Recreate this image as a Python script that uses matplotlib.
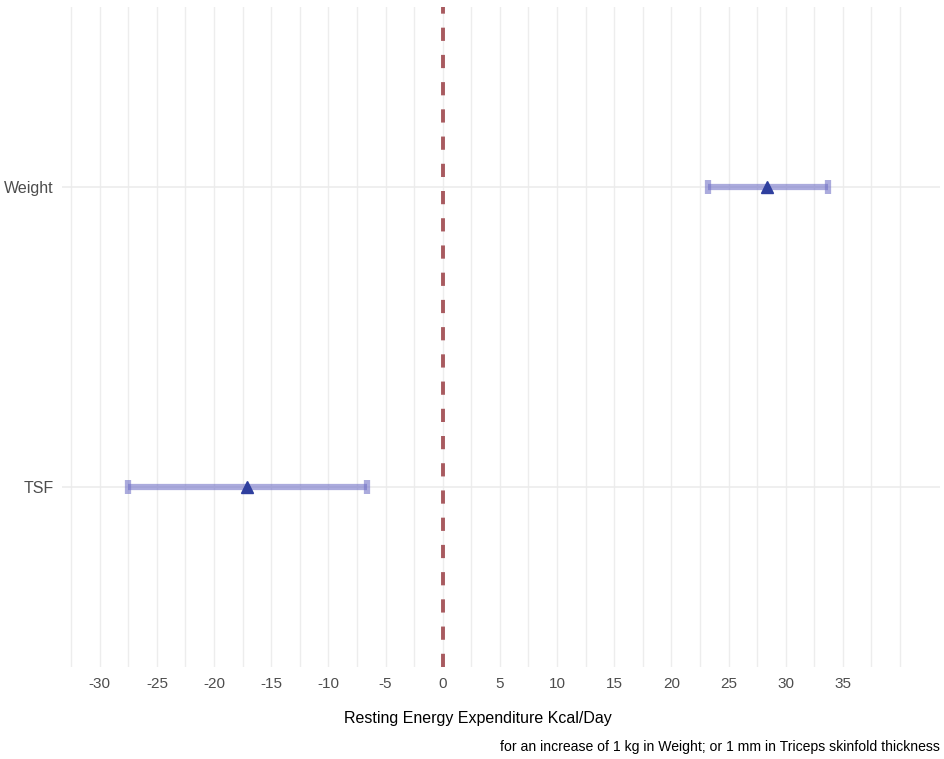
import matplotlib

matplotlib.use("Agg")
import matplotlib.pyplot as plt
import numpy as np

plt.rcParams["font.family"] = ["Liberation Sans", "DejaVu Sans"]

# Regression estimates with 95% CI (kcal/day)
terms = ["TSF", "Weight"]
estimate = [-17.1, 28.4]
ci_low = [-27.5, 23.2]
ci_high = [-6.6, 33.7]

x_ticks = list(range(-30, 40, 5))
grid_x = np.arange(-32.5, 40.1, 2.5)

W, H = 945, 759
fig = plt.figure(figsize=(W / 100, H / 100), dpi=100)
ax = fig.add_axes([62 / W, 1 - 667 / H, (940 - 62) / W, (667 - 7) / H])

for gx in grid_x:
    ax.axvline(gx, color="#ededed", lw=1.0, zorder=0)
for i in range(len(terms)):
    ax.axhline(i, color="#ebebeb", lw=1.1, zorder=0)

ax.axvline(0, color="#a85a5f", lw=2.8, ls=(0, (3.4, 3.6)), zorder=2)

ypos = np.arange(len(terms))
ci_col = (0.45, 0.45, 0.78, 0.6)
ax.hlines(ypos, ci_low, ci_high, color=ci_col, lw=4.5, zorder=3)
for y, lo, hi in zip(ypos, ci_low, ci_high):
    ax.vlines([lo, hi], y - 0.022, y + 0.022, color=ci_col, lw=4.5, zorder=3)
ax.plot(estimate, ypos, "^", color="#2f3f9e", ms=8, mec="#2f3f9e", zorder=4, ls="none")

ax.set_xlim(-33.3, 43.5)
ax.set_ylim(-0.6, 1.6)
ax.set_xticks(x_ticks)
ax.set_xticklabels([str(t) for t in x_ticks])
ax.set_yticks(ypos)
ax.set_yticklabels(terms)
ax.tick_params(axis="x", length=0, labelsize=11, labelcolor="#4d4d4d", pad=7)
ax.tick_params(axis="y", length=0, labelsize=11.5, labelcolor="#4d4d4d", pad=6)
for s in ax.spines.values():
    s.set_visible(False)

fig.text(478 / W, 1 - 718 / H, "Resting Energy Expenditure Kcal/Day",
         ha="center", va="center", fontsize=11.5, color="black")
fig.text(940 / W, 1 - 747 / H,
         "for an increase of 1 kg in Weight; or 1 mm in Triceps skinfold thickness",
         ha="right", va="center", fontsize=10.1, color="black")

fig.savefig("out.png", dpi=100)
